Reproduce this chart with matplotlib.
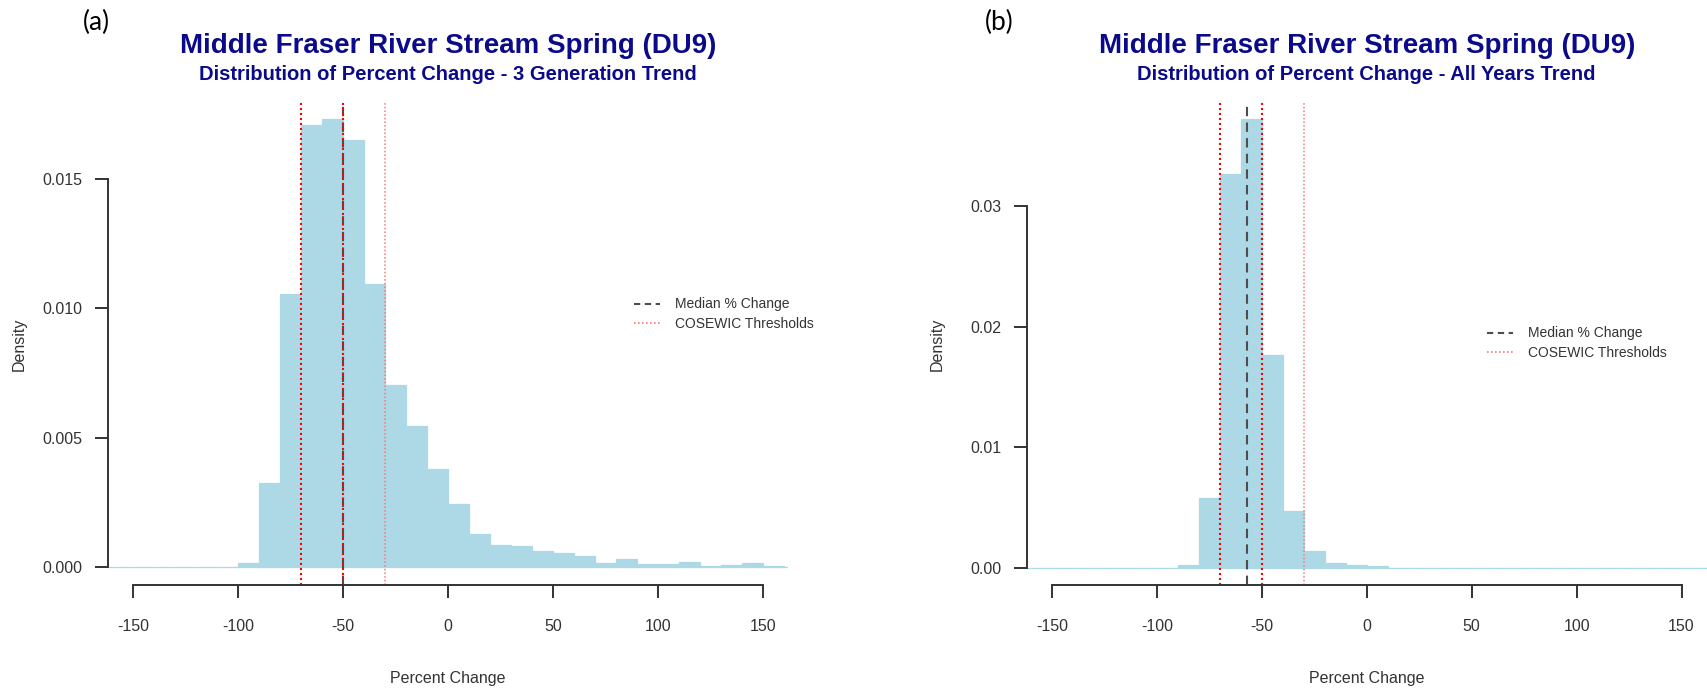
import numpy as np
import matplotlib
matplotlib.use("Agg")
import matplotlib.pyplot as plt
from matplotlib.lines import Line2D

# ---- data -------------------------------------------------------------
bin_width = 10
# left edges of the non-empty bins and their densities
bins_a_left = np.arange(-100, 151, 10)
density_a = [0.00014, 0.00324, 0.01054, 0.01710, 0.01733, 0.01650, 0.01093,
             0.00702, 0.00545, 0.00377, 0.00243, 0.00128, 0.00085, 0.00081,
             0.00062, 0.00053, 0.00041, 0.00013, 0.00031, 0.00009, 0.00010,
             0.00018, 0.00003, 0.00006, 0.00013, 0.00003]
bins_b_left = np.arange(-90, 1, 10)
density_b = [0.0002, 0.0058, 0.0327, 0.0373, 0.0177, 0.0047, 0.00136,
             0.00039, 0.0002, 0.0001]

median_a = -50
median_b = -57
thresholds = [-70, -50, -30]

x_ticks = [-150, -100, -50, 0, 50, 100, 150]
x_tick_labels = ["-150", "-100", "-50", "0", "50", "100", "150"]
y_ticks_a = [0.0, 0.005, 0.010, 0.015]
y_tick_labels_a = ["0.000", "0.005", "0.010", "0.015"]
y_ticks_b = [0.0, 0.01, 0.02, 0.03]
y_tick_labels_b = ["0.00", "0.01", "0.02", "0.03"]

title = "Middle Fraser River Stream Spring (DU9)"
subtitle_a = "Distribution of Percent Change - 3 Generation Trend"
subtitle_b = "Distribution of Percent Change - All Years Trend"
legend_labels = ["Median % Change", "COSEWIC Thresholds"]

# ---- layout -----------------------------------------------------------
W, H, DPI = 1708, 690, 100
plt.rcParams["font.family"] = ["Liberation Sans", "DejaVu Sans"]

fig = plt.figure(figsize=(W / DPI, H / DPI), dpi=DPI)


def fx(px):
    return px / W


def fy(py):
    return 1 - py / H


TOP, BOTTOM = 102.7, 585.0
PANEL_W = 680.0
TEXT_COL = "#333333"
BAR_COL = "lightblue"
TITLE_COL = "#0a0a8a"


def draw_panel(left_px, lefts, dens, median, yticks, yticklabels, ylim,
               subtitle, legend_xy):
    ax = fig.add_axes([fx(left_px), fy(BOTTOM), fx(PANEL_W),
                       (BOTTOM - TOP) / H])
    ax.set_xlim(-162, 162)
    ax.set_ylim(*ylim)

    # full range of bins so the empty ones show as a thin baseline
    all_left = np.arange(-170, 170, bin_width)
    heights = np.zeros(len(all_left))
    for l, d in zip(lefts, dens):
        heights[np.where(all_left == l)[0][0]] = d
    ax.bar(all_left, heights, width=bin_width, align="edge",
           color=BAR_COL, edgecolor=BAR_COL, linewidth=0.9, zorder=1)

    ax.axvline(median, color="#4d4d4d", lw=1.5, ls=(0, (4.5, 3)), zorder=3)
    for t in thresholds:
        strong = t != -30
        ax.axvline(t, color="red" if strong else "#f47a7a",
                   lw=1.5 if strong else 1.1, ls=(0, (1, 1.4)), zorder=4)

    for s in ("top", "right"):
        ax.spines[s].set_visible(False)
    for s in ("left", "bottom"):
        ax.spines[s].set_color(TEXT_COL)
        ax.spines[s].set_linewidth(1.4)
        ax.spines[s].set_zorder(5)
    ax.spines["left"].set_bounds(yticks[0], yticks[-1])
    ax.spines["bottom"].set_bounds(x_ticks[0], x_ticks[-1])

    ax.set_xticks(x_ticks)
    ax.set_xticklabels(x_tick_labels)
    ax.set_yticks(yticks)
    ax.set_yticklabels(yticklabels)
    ax.tick_params(axis="both", length=9.4, width=1.4, color=TEXT_COL,
                   labelcolor=TEXT_COL, labelsize=11.5)
    ax.tick_params(axis="x", pad=15)
    ax.tick_params(axis="y", pad=9)

    cx = left_px + PANEL_W / 2
    fig.text(fx(cx), fy(678), "Percent Change", ha="center", va="center",
             fontsize=11.5, color=TEXT_COL)
    fig.text(fx(left_px - 89), fy((TOP + BOTTOM) / 2), "Density",
             rotation=90, ha="center", va="center", fontsize=11.5,
             color=TEXT_COL)

    fig.text(fx(cx), fy(46), title, ha="center", va="center",
             fontsize=20, fontweight="bold", color=TITLE_COL)
    fig.text(fx(cx), fy(75), subtitle, ha="center", va="center",
             fontsize=14.5, fontweight="bold", color=TITLE_COL)

    handles = [Line2D([], [], color="#4d4d4d", lw=1.5, ls=(0, (3, 2.2))),
               Line2D([], [], color="#f47a7a", lw=1.2, ls=(0, (1, 1.4)))]
    ax.legend(handles, legend_labels, loc="center left",
              bbox_to_anchor=(fx(legend_xy[0]), fy(legend_xy[1])),
              bbox_transform=fig.transFigure, frameon=False, fontsize=10,
              handlelength=1.9, handletextpad=1.05, labelspacing=0.38,
              borderaxespad=0.0, borderpad=0.0, labelcolor=TEXT_COL)
    return ax


draw_panel(108.0, bins_a_left, density_a, median_a, y_ticks_a,
           y_tick_labels_a, (-0.000708, 0.01796), subtitle_a, (634, 314))
draw_panel(1026.7, bins_b_left, density_b, median_b, y_ticks_b,
           y_tick_labels_b, (-0.00144, 0.03862), subtitle_b, (1487, 343))

fig.text(fx(96), fy(22), "(a)", ha="center", va="center", fontsize=19,
         family=["Lato", "DejaVu Sans"], color="black")
fig.text(fx(999), fy(22), "(b)", ha="center", va="center", fontsize=19,
         family=["Lato", "DejaVu Sans"], color="black")

fig.savefig("out.png", dpi=DPI)
